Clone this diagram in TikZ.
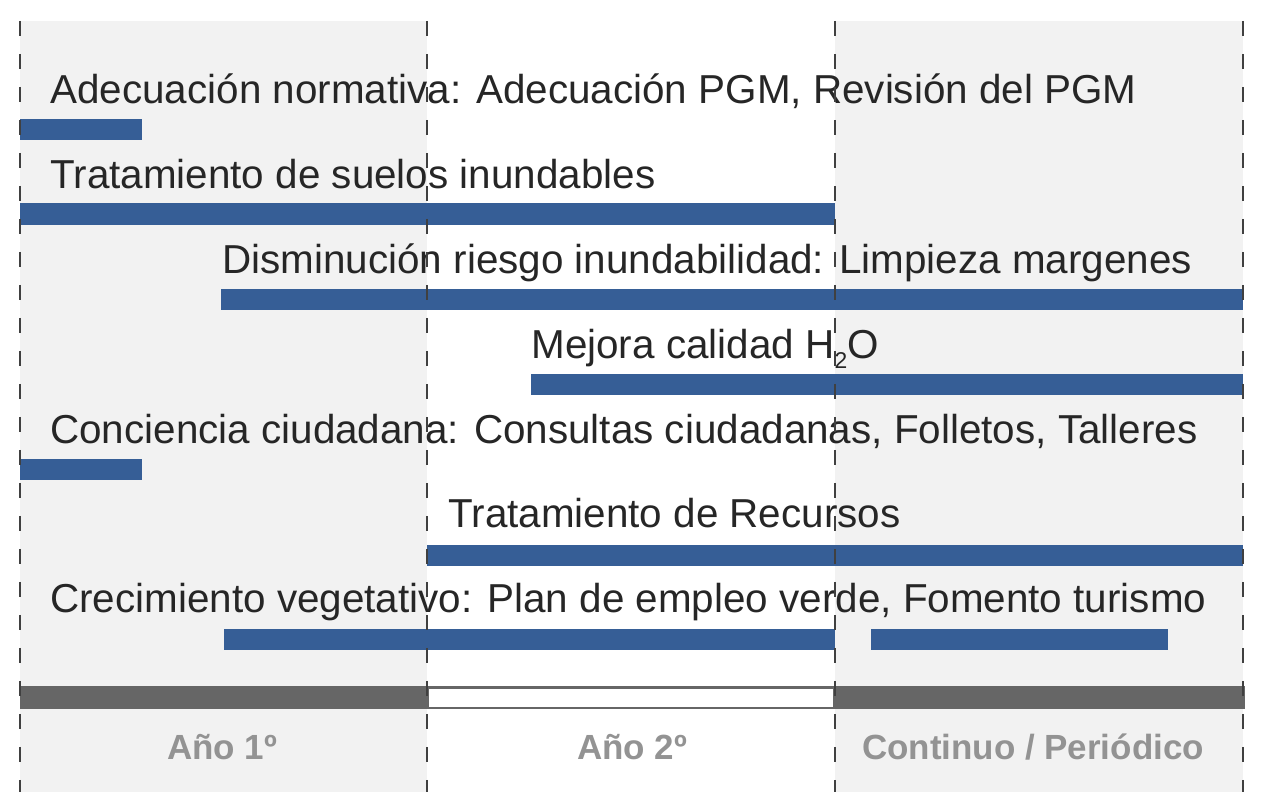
\documentclass[tikz,border=0pt]{standalone}
\usepackage{fontspec}
\setmainfont{Liberation Sans}
\usepackage{tikz}
\usepackage{xcolor}

\definecolor{barblue}{HTML}{365E96}
\definecolor{panelgray}{HTML}{F2F2F2}
\definecolor{axisgray}{HTML}{666666}
\definecolor{labelgray}{HTML}{939393}
\definecolor{textdark}{HTML}{262626}
\definecolor{dashgray}{HTML}{404040}

\tikzset{
  task/.style={anchor=base west,inner sep=0pt,text=textdark,font=\fontsize{23pt}{27pt}\selectfont},
  period/.style={anchor=base,inner sep=0pt,text=labelgray,font=\bfseries\fontsize{19.9pt}{24pt}\selectfont},
  bar/.style={fill=barblue},
  divider/.style={dashgray,line width=1.1pt,dash pattern=on 0.3cm off 0.36cm}
}

\begin{document}
\begin{tikzpicture}[x=0.02cm,y=-0.02cm]
        \useasboundingbox (0,0) rectangle (1263,811);
        % columnas de fondo
        \fill[panelgray] (20,21) rectangle (427,792);
        \fill[panelgray] (835,21) rectangle (1243,792);
        % barras
        \fill[bar] (20,119) rectangle (142,140);
        \fill[bar] (20,203) rectangle (835,225);
        \fill[bar] (221,289) rectangle (1243,310);
        \fill[bar] (531,374) rectangle (1243,395);
        \fill[bar] (20,459) rectangle (142,480);
        \fill[bar] (427,545) rectangle (1243,566);
        \fill[bar] (224,629) rectangle (835,650);
        \fill[bar] (871,629) rectangle (1168,650);
        % textos
        \node[task] (normativa) at (50,104) {Adecuación normativa: Adecuación PGM, Revisión del PGM};
        \node[task] (suelos) at (50,188) {Tratamiento de suelos inundables};
        \node[task] (riesgo) at (222,273) {Disminución riesgo inundabilidad: Limpieza margenes};
        \node[task] (agua) at (531,358) {Mejora calidad H\raisebox{-0.21cm}{\fontsize{13pt}{14pt}\selectfont 2}O};
        \node[task] (conciencia) at (50,443) {Conciencia ciudadana: Consultas ciudadanas, Folletos, Talleres};
        \node[task] (recursos) at (448,527) {Tratamiento de Recursos};
        \node[task] (crecimiento) at (50,612) {Crecimiento vegetativo: Plan de empleo verde, Fomento turismo};
        % eje temporal
        \fill[axisgray] (20,686) rectangle (1245,709);
        \fill[white] (429,688.5) rectangle (833,706.5);
        \node[period] (anio1) at (222,759) {Año 1º};
        \node[period] (anio2) at (632,759) {Año 2º};
        \node[period] (continuo) at (1033,759) {Continuo / Periódico};
        % separadores
        \foreach \x in {20,427,835,1243}
            \draw[divider] (\x,21) -- (\x,792);
    \end{tikzpicture}
\end{document}
